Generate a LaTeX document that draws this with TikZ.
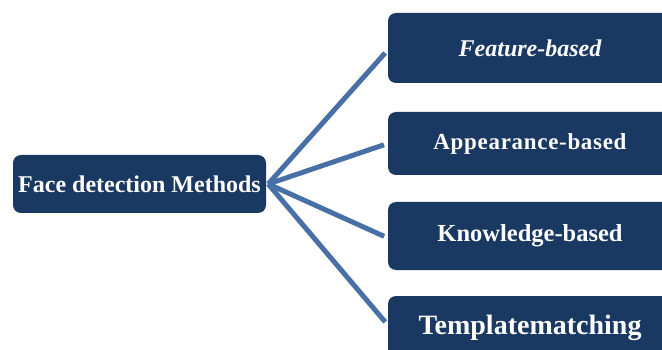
\documentclass[tikz,border=0pt]{standalone}
\usepackage{fontspec}
\setmainfont{Liberation Serif}
\definecolor{navy}{RGB}{25,56,98}
\definecolor{steel}{RGB}{72,112,166}
\begin{document}
\begin{tikzpicture}[x=1pt,y=-1pt,
  box/.style={fill=navy,rounded corners=8pt,draw=none,text=white,font=\bfseries,inner sep=0pt,minimum width=284pt},
  conn/.style={draw=steel,line width=5pt,shorten >=4pt}]
\useasboundingbox (0,0) rectangle (662,350);
\node[box,minimum width=253pt,minimum height=58pt] (root) at (139.5,184) {\fontsize{24}{26}\selectfont Face detection Methods};
\node[box,minimum height=70pt] (f) at (530,48) {\fontsize{24}{26}\selectfont\itshape Feature-based};
\node[box,minimum height=63pt] (a) at (530,143.5) {\fontsize{23}{25}\selectfont\addfontfeature{LetterSpace=3}Appearance-based};
\node[box,minimum height=68pt] (k) at (530,236) {\raisebox{-2pt}{\fontsize{24.5}{26}\selectfont Knowledge-based}};
\node[box,minimum height=64pt] (t) at (530,328) {\fontsize{28}{30}\selectfont Templatematching};
\coordinate (hub) at ([xshift=2pt]root.east);
\draw[conn] (hub) -- ([yshift=-2pt]f.west);
\draw[conn] (hub) -- (a.west);
\draw[conn] (hub) -- ([yshift=-2pt]k.west);
\draw[conn] (hub) -- ([yshift=3pt]t.west);
\end{tikzpicture}
\end{document}
